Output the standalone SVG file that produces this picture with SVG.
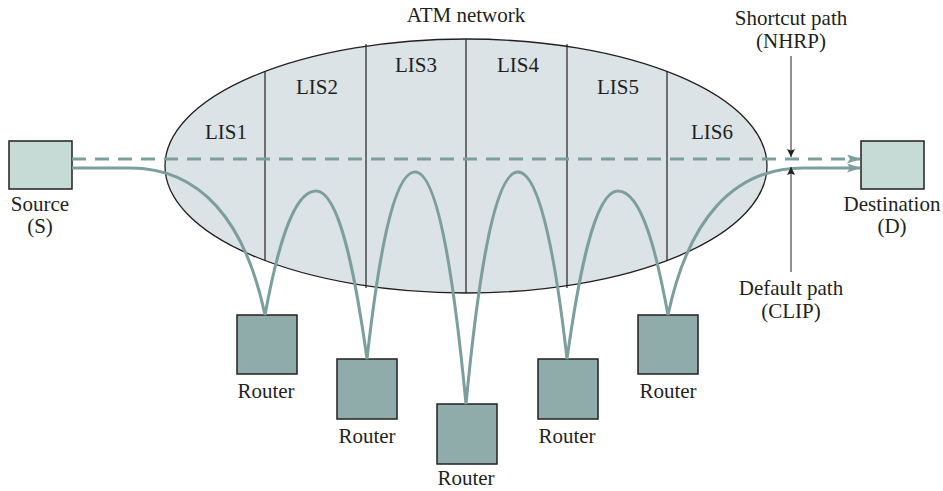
<svg xmlns="http://www.w3.org/2000/svg" width="943" height="491" viewBox="0 0 943 491">
<style>
text{font-family:"Liberation Serif","Times New Roman",serif;font-size:21px;fill:#231f20;text-anchor:middle}
.end{fill:#c6dad6;stroke:#231f20;stroke-width:1.5}
.rtr{fill:#8facaa;stroke:#231f20;stroke-width:1.5}
.div{stroke:#231f20;stroke-width:1.2;fill:none}
.path{fill:none;stroke:#7c9f9d;stroke-width:3}
.dash{stroke-dasharray:14 9}
.thin{stroke:#231f20;stroke-width:1;fill:none}
</style>
<defs>
<marker id="ah" viewBox="0 0 14 9" refX="13" refY="4.5" markerWidth="14" markerHeight="9" markerUnits="userSpaceOnUse" orient="auto">
<path d="M0,0 L14,4.5 L0,9 L3,4.5 z" fill="#7c9f9d"/>
</marker>
<marker id="bh" viewBox="0 0 8 10" refX="8" refY="5" markerWidth="8" markerHeight="10" markerUnits="userSpaceOnUse" orient="auto">
<path d="M0,1 L8,5 L0,9 L1.5,5 z" fill="#231f20"/>
</marker>
</defs>
<g id="atm-network">
<ellipse cx="466" cy="166" rx="301" ry="127" fill="#dbe3e6" stroke="#231f20" stroke-width="1.3"/>
<line class="div" x1="265" y1="71" x2="265" y2="261"/>
<line class="div" x1="366" y1="44" x2="366" y2="288"/>
<line class="div" x1="466" y1="39" x2="466" y2="293"/>
<line class="div" x1="567" y1="44" x2="567" y2="288"/>
<line class="div" x1="667" y1="71" x2="667" y2="261"/>
<text x="466" y="22">ATM network</text>
<text x="226" y="139">LIS1</text>
<text x="317" y="94">LIS2</text>
<text x="416" y="72">LIS3</text>
<text x="518" y="72">LIS4</text>
<text x="618" y="94">LIS5</text>
<text x="712" y="139">LIS6</text>
</g>
<g id="source">
<rect class="end" x="9" y="141" width="63" height="48"/>
<text x="40" y="211">Source</text>
<text x="40" y="233">(S)</text>
</g>
<g id="destination">
<rect class="end" x="861" y="141" width="63" height="48"/>
<text x="892" y="211">Destination</text>
<text x="892" y="233">(D)</text>
</g>
<g id="router1"><rect class="rtr" x="237" y="315" width="60" height="59"/><text x="266" y="398">Router</text></g>
<g id="router2"><rect class="rtr" x="337" y="359" width="60" height="60"/><text x="367" y="443">Router</text></g>
<g id="router3"><rect class="rtr" x="437" y="404" width="60" height="60"/><text x="466" y="485">Router</text></g>
<g id="router4"><rect class="rtr" x="538" y="359" width="60" height="60"/><text x="567" y="443">Router</text></g>
<g id="router5"><rect class="rtr" x="638" y="315" width="60" height="59"/><text x="668" y="398">Router</text></g>
<g id="connectors">
<path class="path dash" d="M72,159 H860" marker-end="url(#ah)"/>
<path class="path" d="M72,168 H130 C200,168 245,220 265,315 C276,255 292,191 316,191 C340,191 356,280 367,359 C377,270 392,172 415,172 C440,172 456,300 466,404 C476,300 492,172 518,172 C541,172 557,270 567,359 C578,280 594,191 618,191 C642,191 657,255 668,315 C688,220 733,168 803,168 H860" marker-end="url(#ah)"/>
<path class="thin" d="M791,56 V157" marker-end="url(#bh)"/>
<path class="thin" d="M791,272 V167" marker-end="url(#bh)"/>
</g>
<g id="annotations">
<text x="791" y="25">Shortcut path</text>
<text x="791" y="48">(NHRP)</text>
<text x="791" y="295">Default path</text>
<text x="791" y="318">(CLIP)</text>
</g>
</svg>
